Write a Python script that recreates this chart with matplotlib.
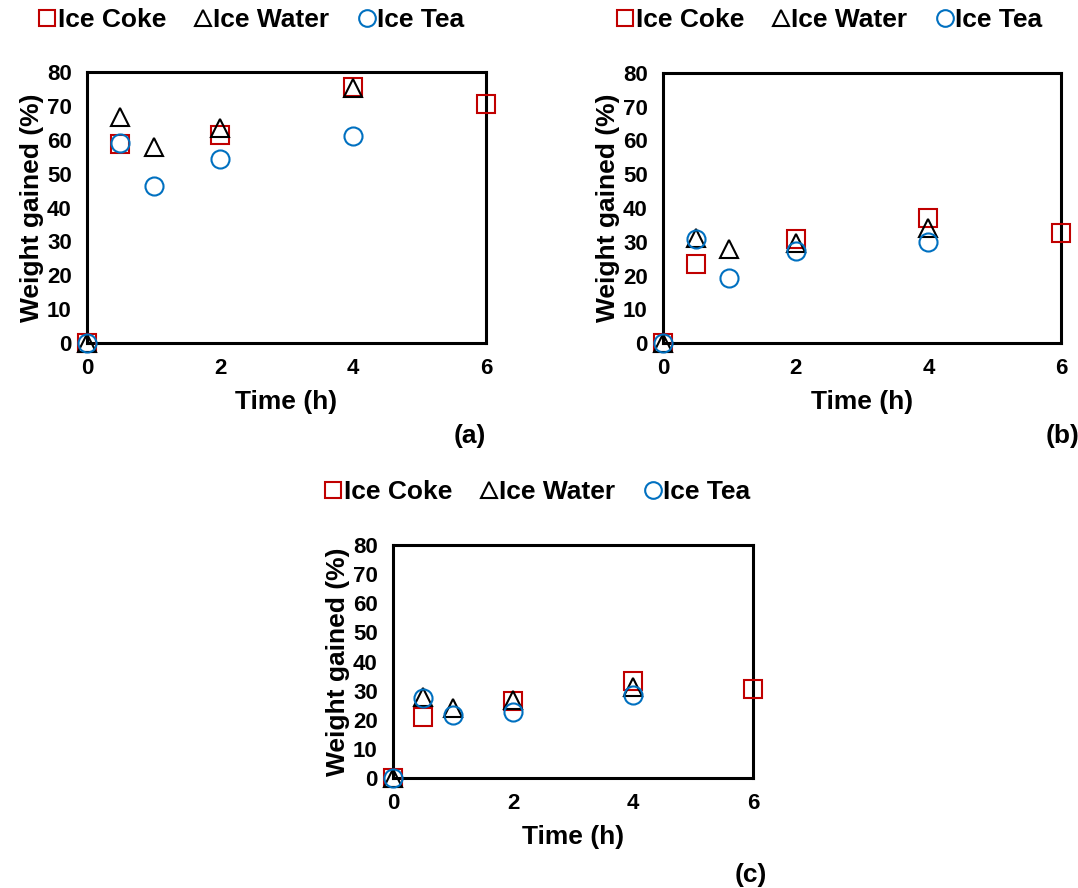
import matplotlib
matplotlib.use("Agg")
import matplotlib.pyplot as plt
from matplotlib.lines import Line2D

plt.rcParams['font.family'] = ['Liberation Sans', 'DejaVu Sans']
plt.rcParams['font.weight'] = 'bold'

# Data
time_coke = [0, 0.5, 2, 4, 6]
time_other = [0, 0.5, 1, 2, 4]

coke_a = [0, 58.8, 61.4, 75.5, 70.5]
water_a = [0, 66.8, 58.0, 63.4, 75.2]
tea_a = [0, 59.0, 46.4, 54.2, 61.1]

coke_b = [0, 23.3, 30.7, 36.9, 32.7]
water_b = [0, 31.2, 27.8, 29.6, 34.0]
tea_b = [0, 30.7, 19.2, 27.4, 30.0]

coke_c = [0, 21.0, 26.4, 33.2, 30.7]
water_c = [0, 27.9, 24.1, 26.7, 31.3]
tea_c = [0, 27.6, 21.5, 22.7, 28.4]

series_names = ["Ice Coke", "Ice Water", "Ice Tea"]
panel_labels = ["(a)", "(b)", "(c)"]
x_ticks = [0, 2, 4, 6]
y_ticks = [0, 10, 20, 30, 40, 50, 60, 70, 80]

RED = "#C00000"
BLUE = "#0070C0"
BLACK = "#000000"

W, H = 1078, 888
fig = plt.figure(figsize=(W / 100, H / 100), dpi=100)


def px_axes(left, right, top, bottom):
    return fig.add_axes([left / W, 1 - bottom / H, (right - left) / W, (bottom - top) / H])


panels = [
    dict(box=(87, 486, 72, 343), data=(coke_a, water_a, tea_a), leg=(251, 20), lab=(470, 436)),
    dict(box=(663, 1061, 73, 343), data=(coke_b, water_b, tea_b), leg=(829, 20), lab=(1063, 436)),
    dict(box=(393, 753, 545, 778), data=(coke_c, water_c, tea_c), leg=(537, 492), lab=(751, 875)),
]

ms = 13
mew = 1.5
for p, plab in zip(panels, panel_labels):
    ax = px_axes(*p['box'])
    coke, water, tea = p['data']
    ax.plot(time_coke, coke, linestyle='none', marker='s', markersize=ms, markerfacecolor='none',
            markeredgecolor=RED, markeredgewidth=mew, clip_on=False, zorder=3)
    ax.plot(time_other, water, linestyle='none', marker='^', markersize=ms, markerfacecolor='none',
            markeredgecolor=BLACK, markeredgewidth=mew, clip_on=False, zorder=4)
    ax.plot(time_other, tea, linestyle='none', marker='o', markersize=ms, markerfacecolor='none',
            markeredgecolor=BLUE, markeredgewidth=mew, clip_on=False, zorder=5)
    ax.set_xlim(0, 6)
    ax.set_ylim(0, 80)
    ax.set_xticks(x_ticks)
    ax.set_yticks(y_ticks)
    ax.tick_params(length=0, labelsize=16, pad=11)
    for lbl in ax.get_xticklabels() + ax.get_yticklabels():
        lbl.set_fontweight('bold')
    for s in ax.spines.values():
        s.set_linewidth(2.2)
    ax.set_xlabel("Time (h)", fontsize=19, fontweight='bold', labelpad=8)
    ax.set_ylabel("Weight gained (%)", fontsize=19, fontweight='bold', labelpad=2)

    handles = [
        Line2D([], [], linestyle='none', marker='s', markersize=12, markerfacecolor='none',
               markeredgecolor=RED, markeredgewidth=mew),
        Line2D([], [], linestyle='none', marker='^', markersize=12, markerfacecolor='none',
               markeredgecolor=BLACK, markeredgewidth=mew),
        Line2D([], [], linestyle='none', marker='o', markersize=12, markerfacecolor='none',
               markeredgecolor=BLUE, markeredgewidth=mew),
    ]
    lx, ly = p['leg']
    fig.legend(handles, series_names, loc='center', bbox_to_anchor=(lx / W, 1 - ly / H),
               ncol=3, frameon=False, handlelength=0.7, handletextpad=0.05, columnspacing=1.05,
               prop={'size': 19, 'weight': 'bold'}, borderpad=0, borderaxespad=0)
    tx, ty = p['lab']
    fig.text(tx / W, 1 - ty / H, plab, fontsize=19, fontweight='bold', ha='center', va='center')

fig.savefig("out.png", dpi=100)
